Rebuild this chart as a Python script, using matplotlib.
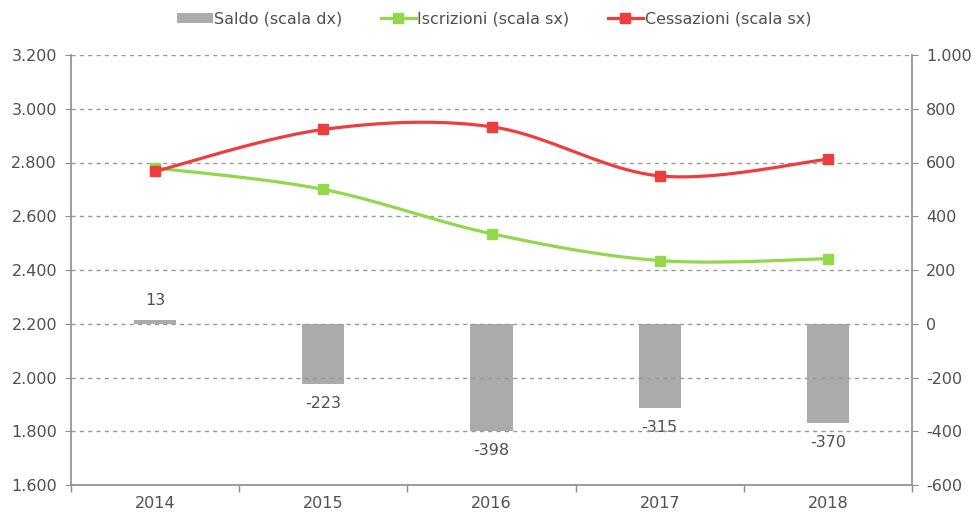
import numpy as np
import matplotlib
matplotlib.use("Agg")
import matplotlib.pyplot as plt
from matplotlib.patches import Patch
from matplotlib.lines import Line2D
from matplotlib.ticker import FuncFormatter

plt.rcParams['font.family'] = ['DejaVu Sans']

years = ["2014", "2015", "2016", "2017", "2018"]
iscrizioni = [2780, 2700, 2535, 2435, 2442]
cessazioni = [2767, 2923, 2933, 2750, 2812]
saldo = [13, -223, -398, -315, -370]

left_ticks = [1600, 1800, 2000, 2200, 2400, 2600, 2800, 3000, 3200]
right_ticks = [-600, -400, -200, 0, 200, 400, 600, 800, 1000]

GREEN = '#92D84A'
RED = '#EE3D3D'
GRAY_BAR = '#ABABAB'
TXT = '#505050'
AXC = '#8C8C8C'
FS = 11.5


def smooth(xs, ys, n=40):
    xs = np.asarray(xs, float); ys = np.asarray(ys, float)
    P = np.column_stack([xs, ys])
    ext = np.vstack([P[0], P, P[-1]])
    out = []
    t = np.linspace(0, 1, n)[:, None]
    for i in range(len(P) - 1):
        p0, p1, p2, p3 = ext[i], ext[i + 1], ext[i + 2], ext[i + 3]
        c1 = p1 + (p2 - p0) / 6.0
        c2 = p2 - (p3 - p1) / 6.0
        seg = ((1 - t) ** 3) * p1 + 3 * ((1 - t) ** 2) * t * c1 + 3 * (1 - t) * t ** 2 * c2 + t ** 3 * p2
        out.append(seg if i == 0 else seg[1:])
    out = np.vstack(out)
    return out[:, 0], out[:, 1]


fig = plt.figure(figsize=(9.73, 5.13), dpi=100)
ax = fig.add_axes([71 / 973, 1 - 485 / 513, (912 - 71) / 973, (485 - 55) / 513])
ax2 = ax.twinx()

x = np.arange(len(years))

# bars on right scale
ax2.bar(x, saldo, width=0.25, color=GRAY_BAR, zorder=2)
ax2.set_ylim(right_ticks[0], right_ticks[-1])
ax2.set_yticks(right_ticks)
for xi, v in zip(x, saldo):
    off = 14 if v >= 0 else -14
    ax2.annotate(f"{v}", (xi, v), xytext=(0, off), textcoords='offset points',
                 ha='center', va='center', fontsize=FS, color=TXT)

# lines on left scale
sx, sy = smooth(x, iscrizioni)
ax.plot(sx, sy, color=GREEN, lw=2.3, zorder=3, solid_capstyle='butt')
ax.plot(x, iscrizioni, ls='none', marker='s', ms=6.5, color=GREEN, zorder=4)
sx, sy = smooth(x, cessazioni)
ax.plot(sx, sy, color=RED, lw=2.3, zorder=3, solid_capstyle='butt')
ax.plot(x, cessazioni, ls='none', marker='s', ms=6.5, color=RED, zorder=4)

ax.set_ylim(left_ticks[0], left_ticks[-1])
ax.set_yticks(left_ticks)
ax.yaxis.set_major_formatter(FuncFormatter(lambda v, p: f"{int(v):,}".replace(",", ".")))
ax2.yaxis.set_major_formatter(FuncFormatter(lambda v, p: f"{int(v):,}".replace(",", ".")))
ax.set_xlim(-0.5, len(years) - 0.5)
ax.set_xticks(x)
ax.set_xticklabels(years)
ax.set_xticks(np.arange(-0.5, len(years)), minor=True)
ax.tick_params(axis='x', which='major', length=0, pad=8, labelsize=FS, labelcolor=TXT)
ax.tick_params(axis='x', which='minor', length=5, color=AXC, width=1)
ax.tick_params(axis='y', length=4, color=AXC, labelsize=FS, labelcolor=TXT, pad=6)
ax2.tick_params(axis='y', length=4, color=AXC, labelsize=FS, labelcolor=TXT, pad=6)

ax.grid(axis='y', ls=(0, (3, 3)), color='#999999', lw=1)
ax.set_axisbelow(True)

for a in (ax, ax2):
    a.spines['top'].set_visible(False)
ax.spines['right'].set_visible(False)
ax2.spines['left'].set_visible(False)
ax2.spines['bottom'].set_visible(False)
for s in ('left', 'bottom'):
    ax.spines[s].set_color(AXC)
    ax.spines[s].set_linewidth(1.2)
ax2.spines['right'].set_color(AXC)
ax2.spines['right'].set_linewidth(1.2)

ax.set_zorder(ax2.get_zorder() + 1)
ax.patch.set_visible(False)

handles = [
    Patch(facecolor=GRAY_BAR, edgecolor='none'),
    Line2D([], [], color=GREEN, lw=2.3, marker='s', ms=6.5),
    Line2D([], [], color=RED, lw=2.3, marker='s', ms=6.5),
]
labels = ["Saldo (scala dx)", "Iscrizioni (scala sx)", "Cessazioni (scala sx)"]
fig.legend(handles, labels, loc='center', bbox_to_anchor=(0.508, 0.963), ncol=3,
           frameon=False, fontsize=FS, labelcolor=TXT, handlelength=2.2,
           handleheight=0.55, handletextpad=0.1, columnspacing=2.4)

fig.savefig("out.png", dpi=100)
